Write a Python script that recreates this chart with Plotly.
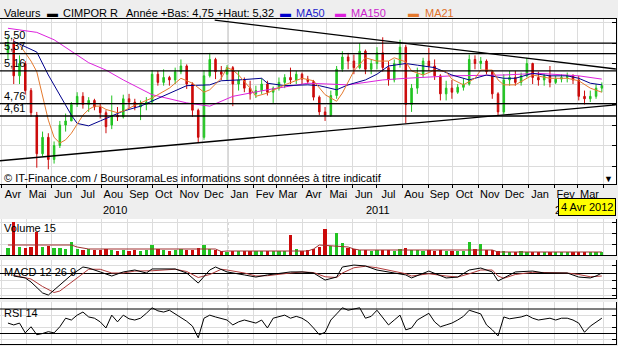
import plotly.graph_objects as go
import pandas as pd

# ---------------- data (weekly) ----------------
week0 = "2010-04-09"
n_weeks = 104
dates = list(pd.date_range(week0, periods=n_weeks, freq="7D"))

opens = [5.38,5.50,5.10,5.25,4.92,4.62,4.15,4.35,4.08,4.25,
         4.50,4.55,4.75,4.85,4.75,4.80,4.72,4.65,4.50,4.62,
         4.60,4.82,4.78,4.72,4.75,4.78,5.12,5.02,5.08,5.05,
         5.15,5.22,5.00,4.68,4.35,5.10,5.30,5.15,5.12,5.20,
         5.00,5.05,4.95,4.88,4.92,5.00,4.90,4.95,5.02,5.08,
         5.05,5.12,5.06,5.03,4.84,4.66,4.62,4.86,5.18,5.33,
         5.28,5.20,5.40,5.18,5.25,5.38,5.20,5.05,5.25,5.45,
         4.75,4.95,5.12,5.28,5.22,5.10,4.88,4.95,4.90,4.96,
         5.00,5.30,5.25,5.28,5.15,4.88,4.66,5.05,5.08,5.02,
         5.10,5.25,5.08,5.05,5.10,5.02,5.06,5.08,5.10,5.05,
         4.85,4.82,4.85,4.95]
highs = [5.58,5.55,5.35,5.28,4.95,4.66,4.42,4.40,4.30,4.55,
         4.64,4.78,4.90,4.90,4.84,4.82,4.76,4.68,4.86,4.72,
         4.87,4.88,4.82,4.80,4.84,5.17,5.16,5.18,5.10,5.20,
         5.30,5.24,5.02,4.70,5.17,5.38,5.32,5.22,5.23,5.22,
         5.16,5.08,5.04,4.98,5.07,5.04,4.97,5.08,5.12,5.20,
         5.16,5.14,5.10,5.05,4.86,4.72,4.92,5.22,5.40,5.38,
         5.36,5.50,5.42,5.30,5.45,5.57,5.28,5.30,5.54,5.48,
         5.00,5.20,5.32,5.44,5.30,5.12,5.04,5.05,5.00,5.07,
         5.36,5.35,5.33,5.30,5.17,4.90,5.12,5.16,5.16,5.14,
         5.32,5.26,5.15,5.12,5.22,5.10,5.12,5.14,5.12,5.10,
         4.92,4.92,5.00,5.02]
lows = [5.30,5.00,5.00,4.87,4.60,3.98,4.12,3.96,4.03,4.22,
        4.42,4.55,4.72,4.70,4.66,4.68,4.58,4.40,4.45,4.55,
        4.58,4.70,4.68,4.56,4.68,4.75,4.98,4.98,4.98,5.00,
        5.12,4.94,4.60,4.28,4.32,5.08,5.06,5.05,5.04,4.73,
        4.92,4.90,4.81,4.83,4.88,4.86,4.77,4.92,4.95,5.00,
        5.00,5.00,5.00,4.80,4.62,4.55,4.60,4.82,5.15,5.18,
        5.12,5.18,5.12,5.12,5.18,5.15,4.98,5.02,5.20,4.52,
        4.66,4.88,5.08,5.16,5.05,4.80,4.80,4.82,4.88,4.92,
        4.98,5.18,5.18,5.12,4.82,4.62,4.63,4.98,4.98,4.98,
        5.08,5.00,4.98,4.98,4.96,5.00,5.02,5.02,5.00,4.80,
        4.75,4.78,4.82,4.90]
closes = [5.50,5.10,5.25,4.92,4.65,4.15,4.35,4.08,4.25,4.50,
          4.55,4.75,4.85,4.75,4.80,4.72,4.65,4.48,4.62,4.60,
          4.82,4.78,4.72,4.75,4.78,5.12,5.02,5.08,5.05,5.15,
          5.22,5.00,4.68,4.35,5.10,5.30,5.15,5.12,5.20,5.00,
          5.05,4.95,4.88,4.92,5.00,4.90,4.95,5.02,5.08,5.05,
          5.12,5.06,5.03,4.84,4.66,4.62,4.86,5.18,5.33,5.28,
          5.20,5.40,5.18,5.25,5.38,5.20,5.05,5.25,5.45,4.75,
          4.95,5.12,5.28,5.22,5.10,4.88,4.95,4.90,4.96,5.00,
          5.30,5.25,5.28,5.15,4.88,4.66,5.05,5.08,5.02,5.10,
          5.25,5.08,5.05,5.10,5.02,5.06,5.08,5.10,5.05,4.85,
          4.82,4.85,4.95,4.98]
volumes = [70,330,80,75,80,230,80,90,70,75,
           65,130,60,55,60,50,55,60,55,45,
           50,45,50,45,55,100,60,50,45,50,
           60,50,55,70,100,60,50,45,35,40,
           45,40,45,40,45,40,45,40,45,200,
           60,45,50,60,80,260,90,220,120,70,
           60,55,50,45,55,50,55,45,60,70,
           55,50,45,50,45,50,45,40,45,40,
           130,60,110,50,55,45,40,35,35,40,
           35,30,35,30,35,30,35,30,35,35,
           30,35,30,35]
vol_ma_wk = [0,11,12,14,36,37,38,52,53,54,59,60,61,84,85,103]
vol_ma = [100,100,80,60,60,35,40,40,60,100,80,60,50,50,30,30]

ma150_wk = [0,5,8,11,14,17,20,25,31,35,39,45,52,59,65,69,77,86,92,99,103]
ma150 = [5.68,5.63,5.54,5.40,5.26,5.17,5.05,4.87,4.77,4.73,4.85,4.93,5.01,4.99,
         5.05,5.07,5.10,5.11,5.13,5.10,5.06]
ma50_wk = [1,5,7,9,11,12,14,16,20,23,28,31,35,37,40,44,45,48,52,54,57,59,62,64,66,
           69,71,74,77,80,83,86,88,91,94,97,99,101,103]
ma50 = [5.52,5.39,5.11,4.87,4.62,4.52,4.49,4.55,4.67,4.73,4.89,4.98,4.99,5.04,5.05,
        5.07,5.01,4.98,4.99,4.98,4.93,4.99,5.05,5.12,5.22,5.25,5.23,5.20,5.11,5.05,
        5.11,5.07,5.07,5.13,5.10,5.10,5.07,5.01,4.99]
ma21_wk = [2,4,5,6,7,8,9,10,11,12,13,14,15,16,17,18,19,20,22,25,28,30,32,34,35,37,38,
           39,40,42,43,45,48,51,53,55,57,58,60,62,64,66,67,69,70,72,74,76,77,79,81,82,
           84,85,86,88,91,94,97,99,101,103]
ma21 = [5.48,5.28,5.15,4.85,4.56,4.35,4.28,4.32,4.40,4.51,4.62,4.69,4.73,4.73,4.69,
        4.67,4.65,4.67,4.74,4.83,4.95,5.07,5.01,4.90,4.93,5.07,5.20,5.17,5.11,4.95,
        4.85,4.89,4.99,5.07,5.04,4.87,4.79,4.89,5.16,5.32,5.28,5.28,5.32,5.27,5.16,
        5.11,5.17,5.15,5.06,4.99,5.07,5.17,5.17,5.05,4.99,4.99,5.11,5.07,5.07,5.04,
        4.95,4.90]

macd_wk = [1,3,4,6,7,8,11,13,14,16,18,20,22,24,25,29,31,33,35,36,38,41,43,45,49,51,
           53,55,57,58,60,62,64,67,69,70,73,76,78,80,82,84,85,88,91,93,97,99,101,102,103]
macd_vals = [-0.02,-0.033,-0.06,-0.133,-0.147,-0.113,-0.013,0.04,0.033,0.007,
             -0.02,0.007,0.02,0.0,0.027,0.027,0.0,-0.067,0.02,0.04,
             0.007,-0.013,-0.027,-0.013,0.007,0.007,0.0,-0.047,-0.027,0.04,
             0.053,0.047,0.02,0.0,-0.013,-0.033,0.013,-0.033,-0.027,0.02,
             0.033,0.007,-0.053,0.007,0.013,0.0,0.0,-0.027,-0.033,-0.02,0.0]
sig_wk = [1,4,6,8,9,11,13,14,16,18,20,22,25,29,31,33,35,37,38,41,43,45,49,51,53,55,
          57,58,60,62,64,67,69,70,73,76,78,80,82,84,85,86,88,91,93,97,99,101,103]
sig_vals = [-0.015,-0.04,-0.09,-0.13,-0.12,-0.06,0.0,0.025,0.025,0.0,
            0.0,0.013,0.015,0.025,0.01,-0.03,-0.01,0.025,0.02,0.0,
            -0.02,-0.018,0.0,0.007,0.003,-0.025,-0.03,0.0,0.035,0.045,
            0.035,0.01,-0.005,-0.02,-0.005,-0.02,-0.027,-0.005,0.02,0.02,
            -0.02,-0.035,-0.01,0.005,0.005,0.0,-0.01,-0.025,-0.02]
rsi = [47,44,47,31,41,28,30,33,31,41, 55,52,60,65,57,55,49,39,60,49,
       60,54,52,55,63,72,67,65,68,62, 55,50,42,23,55,60,57,55,52,44,
       49,52,49,47,52,39,55,57,60,55, 58,55,49,39,28,32,52,62,72,68,
       70,72,55,58,68,55,44,52,60,36, 39,52,57,63,49,41,44,47,52,58,
       68,65,62,44,36,26,57,54,55,57, 60,55,52,54,55,52,55,55,52,47,
       32,42,49,55]

levels = [5.50, 5.37, 5.16, 4.76, 4.61]
rsi_levels = [70, 30]
trend_down_dates = ["2010-12-16", "2012-04-16"]
trend_down = [5.78, 5.183]
trend_up_dates = ["2010-03-30", "2012-04-16"]
trend_up = [4.064, 4.747]
month_fr = ["Jan", "Fev", "Mar", "Avr", "Mai", "Jun", "Jul", "Aou", "Sep", "Oct", "Nov", "Dec"]
years = [2010, 2011, 2012]
x_range = ["2010-03-30 08:00", "2012-04-16 05:00"]
data_span = ["2010-04-01", "2012-04-04"]
last_date_label = "4 Avr 2012"

# ---------------- styling ----------------
W, H = 618, 346
FONT = "Liberation Sans, Arial, sans-serif"
GREEN = "#22c422"
RED = "#cc0a0a"
GRID = "#dcdcdc"
BG = "#eeeeee"

def dom(top_px, bot_px):
    return [1 - bot_px / H, 1 - top_px / H]

def py(px):
    return 1 - px / H

X_DOM = [0, 616 / W]

fig = go.Figure()

fig.add_trace(go.Candlestick(
    x=dates, open=opens, high=highs, low=lows, close=closes,
    increasing=dict(line=dict(color=GREEN, width=1), fillcolor=GREEN),
    decreasing=dict(line=dict(color=RED, width=1), fillcolor=RED),
    whiskerwidth=0, xaxis="x", yaxis="y", showlegend=False, hoverinfo="skip"))

def sub(wk, vals):
    return [dates[i] for i in wk], vals

for wk, vals, col in [(ma150_wk, ma150, "#dd22dd"), (ma50_wk, ma50, "#00008c"),
                      (ma21_wk, ma21, "#e57a2e")]:
    xs, ys = sub(wk, vals)
    fig.add_trace(go.Scatter(x=xs, y=ys, mode="lines", line=dict(color=col, width=1),
                             xaxis="x", yaxis="y", showlegend=False, hoverinfo="skip"))

for xs, ys in [(trend_down_dates, trend_down), (trend_up_dates, trend_up)]:
    fig.add_trace(go.Scatter(x=xs, y=ys, mode="lines", line=dict(color="black", width=1.3),
                             xaxis="x", yaxis="y", showlegend=False, hoverinfo="skip"))

vol_colors = [GREEN if c >= o else RED for o, c in zip(opens, closes)]
fig.add_trace(go.Bar(x=dates, y=volumes, marker=dict(color=vol_colors, line=dict(width=0)),
                     width=4 * 86400000, xaxis="x2", yaxis="y2", showlegend=False,
                     hoverinfo="skip"))
xs, ys = sub(vol_ma_wk, vol_ma)
fig.add_trace(go.Scatter(x=xs, y=ys, mode="lines", line=dict(color="#a03030", width=1),
                         xaxis="x2", yaxis="y2", showlegend=False, hoverinfo="skip"))

xs, ys = sub(sig_wk, sig_vals)
fig.add_trace(go.Scatter(x=xs, y=ys, mode="lines", line=dict(color="#b03a3a", width=1),
                         xaxis="x3", yaxis="y3", showlegend=False, hoverinfo="skip"))
xs, ys = sub(macd_wk, macd_vals)
fig.add_trace(go.Scatter(x=xs, y=ys, mode="lines", line=dict(color="black", width=1),
                         xaxis="x3", yaxis="y3", showlegend=False, hoverinfo="skip"))

fig.add_trace(go.Scatter(x=dates, y=rsi, mode="lines", line=dict(color="black", width=1),
                         xaxis="x4", yaxis="y4", showlegend=False, hoverinfo="skip"))

# ---------------- axes ----------------
month_starts = list(pd.date_range("2010-04-01", "2012-04-01", freq="MS"))
label_months = [m for m in month_starts if m < pd.Timestamp("2012-04-01")]
mid_months = [m + pd.Timedelta(days=14) for m in label_months]
month_text = [month_fr[m.month - 1] for m in label_months]

minor = dict(tickmode="array", tickvals=month_starts, showgrid=True, gridcolor=GRID,
             gridwidth=1, ticks="", ticklen=0)

def xax(domain_anchor, labels=False):
    d = dict(type="date", range=x_range, domain=X_DOM, anchor=domain_anchor,
             showgrid=False, zeroline=False, showline=True, linecolor="black",
             linewidth=1, fixedrange=True, minor=minor, rangeslider=dict(visible=False))
    if labels:
        d.update(tickmode="array", tickvals=mid_months, ticktext=month_text,
                 ticks="", showticklabels=True, mirror=True,
                 tickfont=dict(family=FONT, size=11, color="black"),
                 minor=dict(minor, ticks="outside", ticklen=3, tickcolor="black"))
    else:
        d.update(showticklabels=False, ticks="")
    return d

def yax(domain, rng, anchor, tick0, dtick, zeroline=False):
    return dict(domain=domain, range=rng, anchor=anchor, side="right", ticks="inside",
                ticklen=4, tickcolor="black", showticklabels=False, showgrid=True,
                gridcolor=GRID, tick0=tick0, dtick=dtick, showline=True,
                linecolor="black", linewidth=1, zeroline=zeroline,
                zerolinecolor="black", zerolinewidth=1, fixedrange=True)

layout = dict(
    width=W, height=H, margin=dict(l=0, r=0, t=0, b=0),
    paper_bgcolor=BG, plot_bgcolor="white",
    font=dict(family=FONT, size=11, color="black"),
    showlegend=False, bargap=0, boxgap=0.62,
    xaxis=xax("y", labels=True),
    xaxis2=xax("y2"), xaxis3=xax("y3"), xaxis4=xax("y4"),
    yaxis=yax(dom(19, 184), [3.781, 5.793], "x", 4.0, 0.25),
    yaxis2=yax(dom(219, 255), [0, 360], "x2", 0, 110),
    yaxis3=yax(dom(260, 298), [-0.1667, 0.0867], "x3", 0, 0.05, zeroline=True),
    yaxis4=yax(dom(302, 344), [12.86, 81.43], "x4", 0, 20),
)
fig.update_layout(**layout)

shapes = []
for lv in levels:
    shapes.append(dict(type="line", xref="x domain", yref="y", x0=0, x1=1, y0=lv, y1=lv,
                       line=dict(color="black", width=1.3)))
for lv in rsi_levels:
    shapes.append(dict(type="line", xref="x4 domain", yref="y4", x0=0, x1=1, y0=lv, y1=lv,
                       line=dict(color="black", width=1)))
for yr in years[1:]:
    for ax, dash in [("", "solid"), ("2", "dot"), ("3", "dot"), ("4", "dot")]:
        shapes.append(dict(type="line", xref="x" + ax, yref=("y" + ax) + " domain",
                           x0=f"{yr}-01-01", x1=f"{yr}-01-01", y0=0, y1=1,
                           line=dict(color="#999999", width=1, dash=dash), layer="below"))
fig.update_layout(shapes=shapes)

ann = []
def text(x_px, y_px, s, color="black", size=11, **kw):
    ann.append(dict(xref="paper", yref="paper", x=x_px / W, y=py(y_px), text=s,
                    showarrow=False, xanchor=kw.pop("xanchor", "left"),
                    yanchor=kw.pop("yanchor", "middle"),
                    font=dict(family=FONT, size=size, color=color), **kw))

text(2, 13, "Valeurs")
text(45, 13, "▬", color="black")
text(61, 13, "CIMPOR R")
text(124, 13, "Année +Bas: 4,75 +Haut: 5,32")
text(278, 13, "▬", color="#0000cc")
text(294, 13, "MA50", color="#2222cc")
text(333, 13, "▬", color="#dd22dd")
text(349, 13, "MA150", color="#cc22cc")
text(406, 13, "▬", color="#e57a2e")
text(423, 13, "MA21", color="#e0702a")
text(2, 178, "© IT-Finance.com / BoursoramaLes informations sont données à titre indicatif")
text(2, 228, "Volume 15")
text(2, 272, "MACD 12 26 9")
text(2, 313, "RSI 14")
text(602, 179, "▼", size=9)

for lv in levels:
    ann.append(dict(xref="paper", yref="y", x=2 / W, y=lv, yshift=0,
                    text=f"{lv:.2f}".replace(".", ","), showarrow=False,
                    xanchor="left", yanchor="bottom",
                    font=dict(family=FONT, size=11, color="black")))

lo, hi = pd.Timestamp(data_span[0]), pd.Timestamp(data_span[1])
for yr in years:
    a = max(pd.Timestamp(f"{yr}-01-01"), lo)
    b = min(pd.Timestamp(f"{yr + 1}-01-01"), hi)
    ann.append(dict(xref="x", yref="paper", x=a + (b - a) / 2, y=py(210), text=str(yr),
                    showarrow=False, xanchor="center", yanchor="middle",
                    font=dict(family=FONT, size=11, color="black")))

ann.append(dict(xref="paper", yref="paper", x=616 / W, y=py(207), text=last_date_label,
                showarrow=False, xanchor="right", yanchor="middle", bgcolor="#ffff00",
                bordercolor="black", borderwidth=1, borderpad=2,
                font=dict(family=FONT, size=11, color="black")))
fig.update_layout(annotations=ann)

fig.write_html("out.html")
